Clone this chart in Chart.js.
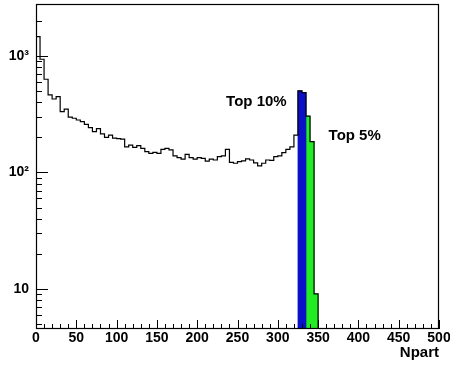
<!DOCTYPE html>
<html>
<head>
<meta charset="utf-8">
<script src="https://cdn.jsdelivr.net/npm/chart.js@4.4.0/dist/chart.umd.min.js"></script>
<style>
  body { margin: 0; background: #fff; }
</style>
</head>
<body>
<canvas id="npartChart" width="450" height="366"></canvas>
<script>
// Npart histogram, 5-unit bins starting at 0
const binWidth = 5;
const npartCounts = [
  1465, 937, 631, 463, 427, 448, 333, 349, 298, 292,
  282, 273, 259, 243, 224, 238, 214, 200, 209, 197,
  195, 193, 166, 172, 164, 170, 161, 151, 146, 149,
  146, 158, 161, 156, 139, 134, 130, 143, 134, 130,
  134, 132, 125, 130, 128, 137, 139, 158, 122, 120,
  124, 126, 131, 128, 121, 114, 120, 128, 127, 137,
  139, 148, 158, 166, 209
];
const top10Start = 325;
const top10Counts = [502, 484];
const top5Start = 335;
const top5Counts = [305, 184, 9.1];

const yTickValues = [10, 100, 1000];
const yTickLabels = ["10", "10²", "10³"];
const xTitle = "Npart";
const top10Label = "Top 10%";
const top5Label = "Top 5%";

const yMin = 4.54, yMax = 2790;
const font = { family: "'Liberation Sans', Arial, sans-serif", weight: "bold", size: 14 };

const allCounts = npartCounts.concat(top10Counts, top5Counts);
const outline = allCounts.map((v, i) => ({ x: i * binWidth, y: v }));
outline.push({ x: allCounts.length * binWidth, y: yMin });

const toBars = (start, counts) => counts.map((v, i) => ({ x: start + (i + 0.5) * binWidth, y: v }));

// ROOT-style frame with ticks pointing inward, plus the two labels
const frameTicks = {
  id: "frameTicks",
  afterDatasetsDraw(chart) {
    const { ctx, chartArea: a, scales: { x, y } } = chart;
    ctx.save();
    ctx.strokeStyle = "#000";
    ctx.lineWidth = 1;
    ctx.beginPath();
    for (let v = 0; v <= 500; v += 10) {
      const px = Math.round(x.getPixelForValue(v)) + 0.5;
      const len = v % 50 === 0 ? 9 : 5;
      ctx.moveTo(px, a.bottom);
      ctx.lineTo(px, a.bottom - len);
    }
    for (let d = 1; d <= 1000; d *= 10) {
      for (let m = 1; m < 10; m++) {
        const v = m * d;
        if (v < y.min || v > y.max) continue;
        const py = Math.round(y.getPixelForValue(v)) + 0.5;
        ctx.moveTo(a.left, py);
        ctx.lineTo(a.left + (m === 1 ? 12 : 6), py);
      }
    }
    ctx.stroke();
    ctx.lineWidth = 1.2;
    ctx.strokeRect(a.left + 0.5, a.top + 0.5, a.right - a.left - 1, a.bottom - a.top - 1);

    ctx.fillStyle = "#000";
    ctx.font = "bold 15px 'Liberation Sans', Arial, sans-serif";
    ctx.textBaseline = "middle";
    ctx.textAlign = "right";
    ctx.fillText(top10Label, x.getPixelForValue(311), y.getPixelForValue(403));
    ctx.textAlign = "left";
    ctx.fillText(top5Label, x.getPixelForValue(363), y.getPixelForValue(205));
    ctx.restore();
  }
};

new Chart(document.getElementById("npartChart"), {
  type: "bar",
  data: {
    datasets: [
      {
        type: "line", data: outline, stepped: true,
        borderColor: "#000", borderWidth: 1.2, pointRadius: 0, fill: false, order: 0
      },
      {
        data: toBars(top10Start, top10Counts), backgroundColor: "#0a0fc8",
        borderWidth: 0, barPercentage: 1, categoryPercentage: 1, grouped: false, order: 1
      },
      {
        data: toBars(top5Start, top5Counts), backgroundColor: "#22ec22",
        borderWidth: 0, barPercentage: 1, categoryPercentage: 1, grouped: false, order: 1
      }
    ]
  },
  options: {
    responsive: false,
    animation: false,
    layout: { padding: { top: 4, right: 11, left: 0, bottom: 0 } },
    plugins: { legend: { display: false }, tooltip: { enabled: false } },
    scales: {
      x: {
        type: "linear", min: 0, max: 500, offset: false,
        ticks: { stepSize: 50, font, color: "#000", padding: 1, maxRotation: 0, autoSkip: false },
        grid: { display: false, drawTicks: false },
        border: { display: false },
        title: { display: true, text: xTitle, align: "end", color: "#000",
                 font: { ...font, size: 15 }, padding: { top: 0, bottom: 4 } },
        afterFit: s => { s.height = 37; s.paddingLeft = 0; s.paddingRight = 0; }
      },
      y: {
        type: "logarithmic", min: yMin, max: yMax,
        afterBuildTicks: s => { s.ticks = yTickValues.map(v => ({ value: v })); },
        ticks: { callback: (v, i) => yTickLabels[i], font, color: "#000", padding: 7, autoSkip: false },
        grid: { display: false, drawTicks: false },
        border: { display: false },
        afterFit: s => { s.width = 36; s.paddingTop = 0; s.paddingBottom = 0; }
      }
    }
  },
  plugins: [frameTicks]
});
</script>
</body>
</html>
